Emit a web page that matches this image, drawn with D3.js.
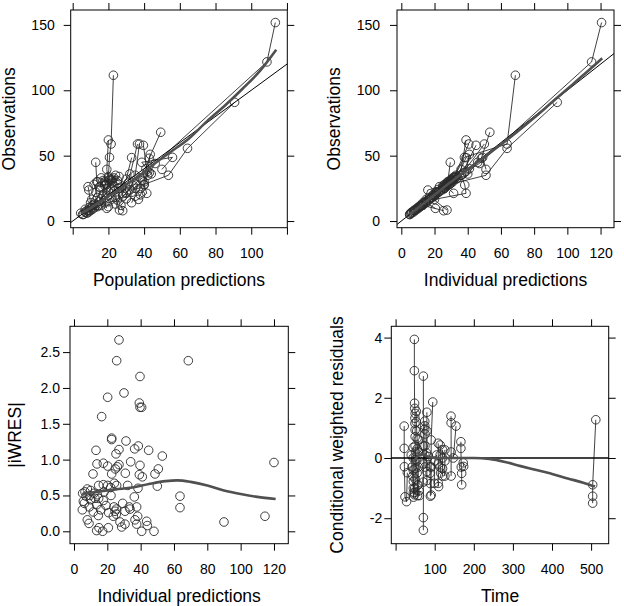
<!DOCTYPE html>
<html>
<head>
<meta charset="utf-8">
<script src="https://cdn.jsdelivr.net/npm/d3@7"></script>
<style>
  body { margin: 0; background: #fff; }
  text { font-family: "Liberation Sans", Arial, sans-serif; }
</style>
</head>
<body>
<div id="chart"></div>
<script>
// ---- observations: subject, observed value, population and individual predictions
const subj = [
  1,1,1,1,1, 2,2,2,2,2, 3,3,3,3,3, 4,4,4,4,4, 5,5,5,5,5, 6,6,6,6,
  7,7,7,7,7,7, 8,8,8,8,8, 9,9,9,9,9, 10,10,10,10,10, 11,11,11,11,11,
  12,12,12,12,12, 13,13,13,13,13, 14,14,14,14,14,14, 15,15,15,15,15,15,
  16,16,16,16,16,16, 17,17,17,17,17, 18,18,18,18, 19,19,19,19,19,19,
  20,20,20,20,20,20, 21,21,21,21,21,21, 22,22,22,22,22,
  23,23,23,23,23, 24,24,24,24
];
const obsv = [
  6,9,14,23.7,26.3, 5,8,12,18,28, 7,10.5,16.6,22,30, 8,12,20,27,33, 9.7,14,24,32,35, 8.4,18,30,44.9,
  10,15,22,31,39.5,62, 28,34,48.7,58.9,111.5, 12,18,25,32,48.5, 11,16,21,29,58.9, 13,19,24,35,58.9,
  16.6,21.2,27.6,35,57.9, 7.9,12,17,22,28, 14,19,25,30,38,51, 22,27,33,40,48,67.9,
  25,31,37,44,121.7,151.8, 20,28,35,55.6,90.8, 36,44.9,48.7,39.5, 6,9,12,17,23,29,
  7,11,15,20,26,36, 5,6.5,8,10,13,19, 26,31,33,27,21.2,
  30,32,33,31,29, 26,28,31,34
];
const pred = [
  4.5,7,10,9,8.6, 5.5,8,11,14,12, 7,9.5,10.7,13,14, 10,14,17,18,20, 19.1,18,21,22,24, 26.2,24,13.5,12.9,
  12,15,19,20,19.1,20, 18,20,20.6,21.5,22.8, 16,22,26,30,33, 20,25,28,31,36.3, 24,28,32,35,37.4,
  36.8,41.5,40,42,39.6, 28,27,30,33,36, 33,35,38,40,42,43.4, 30,34,38,41,42.8,49.3,
  35,39,43,46.2,108.8,113.5, 38,40,53.6,64.3,90.7, 44,38.7,55.9,50, 8,11,13,16,20,25,
  9,14,19,24,27,32, 6,7.5,9,10.5,12.5,17, 15,17,16,23,30,
  18,21,23,25,22, 15,19,22,26
];
const ipred = [
  5.5,8.5,13,16,23, 5,7.5,11.5,17,26, 6.5,10,15,21,28, 8,12.5,19,25,31, 20.5,15,22,30,33, 27.5,18,28,29.5,
  10.5,14.5,21,30,36,39, 27,32,38,63.7,68.7, 12.5,18.5,26,33,39, 11.5,16.5,21,30,40.6, 13,19.5,25,36,50,
  20,39,38.2,36,45, 25.5,13,17.5,22.5,29, 14.5,20,26,31,39,41, 22,27.5,34,41,48.2,53.3,
  25.5,31,38,47,114.6,120.6, 19.5,29,51,63.7,93.9, 40,46,49,51, 6,9.5,12,17.5,23.5,29,
  7.5,11,15,20.5,26.5,37, 5.2,6.4,8.2,10,13.2,19.6, 25,30,32,26.5,31.5,
  29,31,32.5,30,28, 25.5,27,30.5,33
];
// smooth lines
const smoothPred = [[5,6],[10,10],[15,14.5],[20,19],[25,23],[30,28],[35,32.5],[40,37.5],[45,43],[55,53],[65,63],[75,76],[85,88],[95,101],[105,115],[114,131]];
const smoothIpred = [[5,5],[10,10],[20,20],[30,30],[40,39.5],[50,49],[60,58.5],[70,68.5],[80,79],[90,90],[100,101],[110,112],[121,124.5]];
const identity = [-20, 200];

// ---- |iWRES| against individual predictions
const ipred3 = [
  27,25.6,68.6,39.6,30,20.2,39.2,39.6,40.6,16.6,22.6,22.6,13.2,27,31.2,38.6,36.4,44.8,25.2,53,
  34,120,17.6,13.8,20.2,27,26,24.8,39.6,50.6,11.4,22.6,30.8,39.2,41,48.6,24.2,25.6,20.2,22,
  14.8,32.2,38.4,50,5.2,8,10,12,14,7.2,14.8,22.2,10,17.6,63.6,63.6,36.2,6.2,5,9.2,
  13.6,19.2,24,25.4,24.6,29.2,33.2,37.6,30.6,20.8,11.6,14.6,25.4,23.6,38.2,36.6,8,9,27.6,30.6,
  37.6,43.6,44,28.6,15,20.6,13.6,17.2,40.6,48,90,114.6,6.6,9.6,12.6,17.6,33.6,5.6,18,16
];
const iwres = [
  2.67,2.38,2.38,2.16,1.93,1.87,1.79,1.73,1.73,1.60,1.30,1.28,1.13,1.14,1.26,1.19,1.15,1.13,1.08,1.05,
  0.97,0.96,0.95,0.94,0.91,0.93,0.90,0.87,0.92,0.87,0.80,0.80,0.81,0.79,0.76,0.80,0.67,0.64,0.64,0.61,
  0.64,0.64,0.60,0.63,0.53,0.59,0.57,0.53,0.51,0.49,0.46,0.50,0.44,0.43,0.49,0.33,0.48,0.39,0.30,0.34,
  0.37,0.36,0.34,0.31,0.28,0.39,0.34,0.34,0.28,0.26,0.27,0.22,0.24,0.21,0.21,0.16,0.16,0.11,0.13,0.10,
  0.10,0.14,0.08,0.06,0.05,0.05,0.01,0.00,0.00,0.00,0.13,0.21,0.55,0.50,0.46,0.65,0.31,0.42,0.55,0.30
];
const smoothIwres = [[5,0.52],[15,0.555],[25,0.585],[35,0.61],[45,0.66],[55,0.70],[62,0.71],[70,0.69],[80,0.64],[90,0.57],[100,0.52],[110,0.48],[121,0.45]];

// ---- conditional weighted residuals against time
const subj4 = [
  1,1,1,1,1,1,
  2,2,2,2,2,2,2,2,2,2,2,2,2,2,2,2,2,
  3,3,3,3,3,3, 4,4,4,4,4,4,4,4,4, 5,5,5,5,5,5, 6,6,6,6,6,6, 7,7,7,7,7,7,7,
  8,8,8,8,8, 9,9,9,9,9, 10,10,10,10, 11,11,11, 12,12,12,12, 13,13,13,13,
  14,14,14,14, 15,15,15, 16,16,16,16, 17,17, 18,18,18,18,18, 19,19, 20,20,20,20, 21,21,21,21
];
const time4 = [
  22,22,22.5,24,28,30,
  48,48,48.5,49,50,49.5,49.5,50,50,50,51,51,50,50,49,48.5,48,
  45,45,45,45.4,45.4,45.4, 53,53,54,55,55,54,55,56,56, 58,58,58,58,60,61, 71,71,71,71,71,71, 74.5,74.5,74.5,75,75,75,75,
  80,80,79,80,80, 84,88,88,89,89, 91,91,91,95, 99,100,105, 109,109,109,110, 114,114,114,115,
  120,120,120,120, 126,126,126, 141.7,142,142,142, 147.7,154.5, 167,167,168,169,169, 173,174, 504,504,504,512, 40,42,44,46
];
const cwres = [
  1.06,0.32,-0.29,-1.29,-1.45,-0.49,
  3.94,2.90,1.82,1.65,1.48,1.32,1.15,0.93,0.71,0.4,0.2,-0.05,-0.35,-0.7,-1.0,-1.15,-1.22,
  0.35,0.0,-0.4,-0.78,-1.0,-1.16, 1.55,1.2,0.9,0.65,0.3,-0.1,-0.5,-0.9,-1.25, 0.6,0.2,-0.3,-0.89,-1.09,-1.25,
  2.72,0.4,-0.2,-0.8,-1.98,-2.4, 1.22,1.07,0.96,0.8,0.4,0.1,-0.3,
  1.52,0.9,0.17,-0.45,-0.75, 0.05,-0.29,-0.51,-0.85,-1.27, -1.23,-0.3,0.6,1.86, -0.84,-0.1,0.1, 0.49,-0.2,-0.84,-0.95,
  0.43,0.1,-0.3,-0.5, 0.27,0.0,-0.35,-0.6, 0.27,-0.1,-0.6, 1.39,1.17,0.2,-0.6, 0.0,1.06,
  0.54,0.32,-0.3,-0.51,-0.89, -0.16,-0.28, -1.5,-1.27,-0.89,1.27, 0.1,-0.3,-0.6,-1.3
];
const smoothCwres = [[40,-0.2],[50,-0.05],[60,0.1],[70,0.12],[80,0.06],[95,0.01],[120,0],[160,0],[200,0],[240,-0.03],[280,-0.13],[320,-0.27],[360,-0.4],[400,-0.53],[440,-0.68],[480,-0.82],[510,-0.95]];

// ---- tick values and labels
const ticksPred = [0,20,40,60,80,100,120], labelsPred = ["","20","40","60","80","100",""];
const ticksIpred = [0,20,40,60,80,100,120], labelsIpred = ["0","20","40","60","80","100","120"];
const ticksObs = [0,50,100,150], labelsObs = ["0","50","100","150"];
const ticksIwres = [0,0.5,1,1.5,2,2.5], labelsIwres = ["0.0","0.5","1.0","1.5","2.0","2.5"];
const ticksTime = [0,100,200,300,400,500], labelsTime = ["","100","200","300","400","500"];
const ticksCwres = [-2,0,2,4], labelsCwres = ["-2","0","2","4"];

const svg = d3.select("#chart").append("svg")
  .attr("width", 624).attr("height", 606);

let clipId = 0;
function panel(p) {
  const x = d3.scaleLinear().domain(p.xDomain).range([p.left, p.right]);
  const y = d3.scaleLinear().domain(p.yDomain).range([p.bottom, p.top]);
  const g = svg.append("g");

  const styleAxis = a => {
    a.select(".domain").remove();
    a.selectAll(".tick line").attr("stroke", "#000");
    a.selectAll("text").attr("font-size", 14).attr("fill", "#000")
      .attr("font-family", '"Liberation Sans", Arial, sans-serif');
  };
  g.append("g").attr("transform", `translate(0,${p.bottom})`)
    .call(d3.axisBottom(x).tickValues(p.xTicks).tickFormat((d, i) => p.xLabels[i]).tickSize(7).tickPadding(13))
    .call(styleAxis);
  g.append("g").attr("transform", `translate(0,${p.top})`)
    .call(d3.axisTop(x).tickValues(p.xTicks).tickFormat("").tickSize(7))
    .call(styleAxis);
  g.append("g").attr("transform", `translate(${p.left},0)`)
    .call(d3.axisLeft(y).tickValues(p.yTicks).tickFormat((d, i) => p.yLabels[i]).tickSize(7).tickPadding(p.yPad))
    .call(styleAxis);
  g.append("g").attr("transform", `translate(${p.right},0)`)
    .call(d3.axisRight(y).tickValues(p.yTicks).tickFormat("").tickSize(7))
    .call(styleAxis);

  const id = "clip" + (clipId++);
  svg.append("clipPath").attr("id", id).append("rect")
    .attr("x", p.left).attr("y", p.top).attr("width", p.right - p.left).attr("height", p.bottom - p.top);
  const plot = g.append("g").attr("clip-path", `url(#${id})`);

  g.append("rect")
    .attr("x", p.left).attr("y", p.top).attr("width", p.right - p.left).attr("height", p.bottom - p.top)
    .attr("fill", "none").attr("stroke", "#000").attr("stroke-width", 1);

  g.append("text")
    .attr("x", (p.left + p.right) / 2).attr("y", p.xTitleY)
    .attr("text-anchor", "middle").attr("font-size", 17.5)
    .text(p.xTitle);
  g.append("text")
    .attr("transform", `translate(${p.yTitleX},${(p.top + p.bottom) / 2}) rotate(-90)`)
    .attr("text-anchor", "middle").attr("font-size", 17.5)
    .text(p.yTitle);

  return { x, y, plot };
}

const line = (x, y) => d3.line().x(d => x(d[0])).y(d => y(d[1]));

function drawSubjects(plot, x, y, ids, xs, ys) {
  const groups = d3.group(d3.range(ids.length), i => ids[i]);
  for (const [, idx] of groups) {
    plot.append("path")
      .datum(idx.map(i => [xs[i], ys[i]]))
      .attr("fill", "none").attr("stroke", "#111").attr("stroke-width", 0.8)
      .attr("d", line(x, y));
  }
}
function drawPoints(plot, x, y, xs, ys) {
  plot.append("g").selectAll("circle").data(d3.range(xs.length)).join("circle")
    .attr("cx", i => x(xs[i])).attr("cy", i => y(ys[i])).attr("r", 4.3)
    .attr("fill", "none").attr("stroke", "#2a2a2a").attr("stroke-width", 0.9);
}
function drawSmooth(plot, x, y, pts) {
  plot.append("path").datum(pts)
    .attr("fill", "none").attr("stroke", "#505050").attr("stroke-width", 2.6)
    .attr("d", line(x, y).curve(d3.curveMonotoneX));
}

// ---- Panel 1: observations vs population predictions
{
  const { x, y, plot } = panel({
    left: 70.7, right: 287.3, top: 10, bottom: 227.7,
    xDomain: [-1.12, 120.2], yDomain: [-5.1, 161.4],
    xTicks: ticksPred, xLabels: labelsPred, yTicks: ticksObs, yLabels: labelsObs, yPad: 9,
    xTitle: "Population predictions", xTitleY: 286, yTitle: "Observations", yTitleX: 15
  });
  drawSubjects(plot, x, y, subj, pred, obsv);
  drawPoints(plot, x, y, pred, obsv);
  plot.append("path").datum(identity.map(v => [v, v]))
    .attr("stroke", "#000").attr("stroke-width", 1).attr("d", line(x, y));
  drawSmooth(plot, x, y, smoothPred);
}

// ---- Panel 2: observations vs individual predictions
{
  const { x, y, plot } = panel({
    left: 397, right: 614, top: 10, bottom: 227.7,
    xDomain: [-2.6, 128.1], yDomain: [-5.1, 161.4],
    xTicks: ticksIpred, xLabels: labelsIpred, yTicks: ticksObs, yLabels: labelsObs, yPad: 10,
    xTitle: "Individual predictions", xTitleY: 286, yTitle: "Observations", yTitleX: 340
  });
  drawSubjects(plot, x, y, subj, ipred, obsv);
  drawPoints(plot, x, y, ipred, obsv);
  plot.append("path").datum(identity.map(v => [v, v]))
    .attr("stroke", "#000").attr("stroke-width", 1).attr("d", line(x, y));
  drawSmooth(plot, x, y, smoothIpred);
}

// ---- Panel 3: |iWRES| vs individual predictions
{
  const { x, y, plot } = panel({
    left: 70, right: 288.3, top: 326.3, bottom: 543.7,
    xDomain: [-2.4, 128.6], yDomain: [-0.173, 2.86],
    xTicks: ticksIpred, xLabels: labelsIpred, yTicks: ticksIwres, yLabels: labelsIwres, yPad: 3,
    xTitle: "Individual predictions", xTitleY: 602, yTitle: "|iWRES|", yTitleX: 21
  });
  drawPoints(plot, x, y, ipred3, iwres);
  drawSmooth(plot, x, y, smoothIwres);
}

// ---- Panel 4: CWRES vs time
{
  const { x, y, plot } = panel({
    left: 391.3, right: 608.7, top: 326.3, bottom: 543.7,
    xDomain: [-11, 545], yDomain: [-2.847, 4.375],
    xTicks: ticksTime, xLabels: labelsTime, yTicks: ticksCwres, yLabels: labelsCwres, yPad: 2,
    xTitle: "Time", xTitleY: 602, yTitle: "Conditional weighted residuals", yTitleX: 343
  });
  drawSubjects(plot, x, y, subj4, time4, cwres);
  drawPoints(plot, x, y, time4, cwres);
  plot.append("path").datum([[-20, 0], [600, 0]])
    .attr("stroke", "#000").attr("stroke-width", 1.3).attr("d", line(x, y));
  drawSmooth(plot, x, y, smoothCwres);
}
</script>
</body>
</html>
